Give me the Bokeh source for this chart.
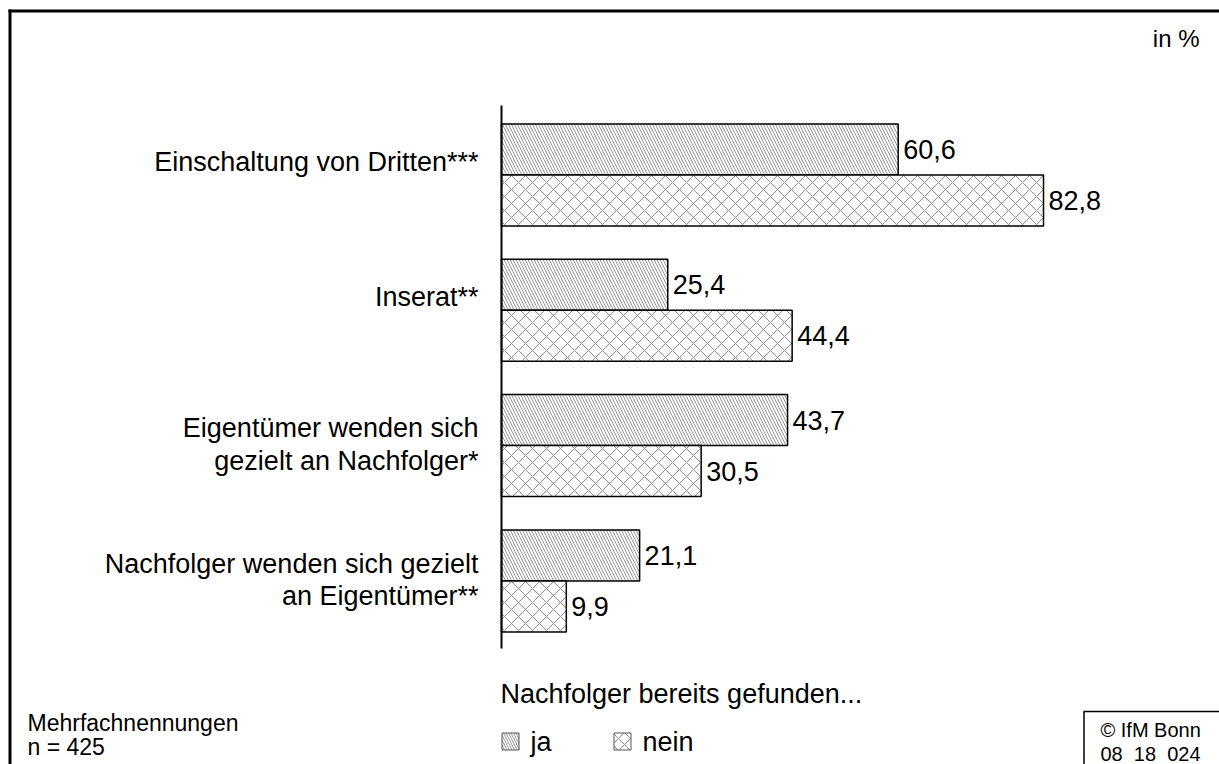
from bokeh.plotting import figure
from bokeh.models import Range1d, ColumnDataSource
from bokeh.core.properties import value
from bokeh.embed import file_html
from bokeh.resources import INLINE

# ---------------- data ----------------
categories = [
    "Einschaltung von Dritten***",
    "Inserat**",
    "Eigentümer wenden sich\ngezielt an Nachfolger*",
    "Nachfolger wenden sich gezielt\nan Eigentümer**",
]
ja = [60.6, 25.4, 43.7, 21.1]
nein = [82.8, 44.4, 30.5, 9.9]
series_names = ["ja", "nein"]
legend_title = "Nachfolger bereits gefunden..."
unit_note = "in %"
footnote_lines = ["Mehrfachnennungen", "n = 425"]
copyright_lines = ["© IfM Bonn", "08\u00a0 18\u00a0 024"]

# ---------------- layout ----------------
W, H = 1219, 764
OFF = 0              # page offset of the figure
ZERO_PX = 501.0      # figure px of value 0
PPU = 6.546          # px per percent
Y0 = 174.5           # figure px (from top) of first group centre
PPY = 135.3          # px per group
BAR_H = 51.0 / PPY
FONT = value("Liberation Sans")


def px_x(page_x):
    return (page_x - OFF - ZERO_PX) / PPU


def px_y(page_y):
    return (Y0 - (page_y - OFF)) / PPY


p = figure(width=W, height=H, output_backend="svg", toolbar_location=None,
           x_range=Range1d(-ZERO_PX / PPU, (W - ZERO_PX) / PPU),
           y_range=Range1d(-(H - Y0) / PPY, Y0 / PPY),
           min_border=0, min_border_left=0, min_border_right=0,
           min_border_top=0, min_border_bottom=0)
p.xaxis.visible = False
p.yaxis.visible = False
p.grid.visible = False
p.outline_line_color = None
p.background_fill_color = "white"
p.border_fill_color = "white"

n = len(categories)
idx = list(range(n))
y_ja = [-i + BAR_H / 2 for i in idx]
y_nein = [-i - BAR_H / 2 for i in idx]

src_ja = ColumnDataSource(dict(y=y_ja, v=ja, lab=[f"{v:.1f}".replace(".", ",") for v in ja]))
src_nein = ColumnDataSource(dict(y=y_nein, v=nein, lab=[f"{v:.1f}".replace(".", ",") for v in nein]))

HATCH_JA = dict(hatch_pattern="left_diagonal_line", hatch_scale=6, hatch_color="#969696", hatch_weight=1)
HATCH_NEIN = dict(hatch_pattern="diagonal_cross", hatch_scale=14, hatch_color="#8c8c8c", hatch_weight=1)

p.hbar(y="y", left=0, right="v", height=BAR_H, source=src_ja, fill_color="white",
       line_color="black", line_width=1.5, **HATCH_JA)
p.hbar(y="y", left=0, right="v", height=BAR_H, source=src_nein, fill_color="white",
       line_color="black", line_width=1.5, **HATCH_NEIN)

# value labels
for src in (src_ja, src_nein):
    p.text(x="v", y="y", text="lab", source=src, x_offset=5, text_align="left",
           text_baseline="middle", text_font=FONT, text_font_size="27px", text_color="black")

# category axis line
p.segment(x0=[0], x1=[0], y0=[px_y(105)], y1=[px_y(648)], line_color="black", line_width=2)

# category labels
lab_y = []
for i, c in enumerate(categories):
    shift = 13 if "\n" not in c else 1
    lab_y.append(-i + shift / PPY)
p.text(x=[0] * n, y=lab_y, text=categories, x_offset=-23, text_align="right",
       text_baseline="middle", text_font=FONT, text_font_size="27px",
       text_line_height=1.08, text_color="black")

# outer frame (left and top edges)
p.segment(x0=[px_x(9.5)], x1=[px_x(9.5)], y0=[px_y(9)], y1=[px_y(780)], line_color="black", line_width=3)
p.segment(x0=[px_x(8)], x1=[px_x(1240)], y0=[px_y(10.5)], y1=[px_y(10.5)], line_color="black", line_width=3)

# unit note
p.text(x=[px_x(1199)], y=[px_y(38)], text=[unit_note], text_align="right", text_baseline="middle",
       text_font=FONT, text_font_size="24px", text_color="black")

# legend
p.text(x=[px_x(500)], y=[px_y(693)], text=[legend_title], text_align="left", text_baseline="middle",
       text_font=FONT, text_font_size="27px", text_color="black")
leg_sq_x = [510, 622]
leg_txt_x = [530, 642]
for k, (name, hatch) in enumerate(zip(series_names, (HATCH_JA, HATCH_NEIN))):
    h = dict(hatch)
    h["hatch_scale"] = 5 if k == 0 else 12
    p.rect(x=[px_x(leg_sq_x[k])], y=[px_y(741)], width=17, height=17,
           width_units="screen", height_units="screen", fill_color="white",
           line_color="#555555", line_width=1, **h)
    p.text(x=[px_x(leg_txt_x[k])], y=[px_y(741)], text=[name], text_align="left",
           text_baseline="middle", text_font=FONT, text_font_size="27px", text_color="black")

# footnote
p.text(x=[px_x(27)] * 2, y=[px_y(722), px_y(746)], text=footnote_lines, text_align="left",
       text_baseline="middle", text_font=FONT, text_font_size="23px", text_color="black")

# copyright box
p.segment(x0=[px_x(1083.5), px_x(1083)], x1=[px_x(1083.5), px_x(1240)],
          y0=[px_y(711), px_y(711)], y1=[px_y(780), px_y(711)], line_color="black", line_width=1.5)
p.text(x=[px_x(1100)] * 2, y=[px_y(729), px_y(753)], text=copyright_lines, text_align="left",
       text_baseline="middle", text_font=FONT, text_font_size="20px", text_color="black")

open("out.html", "w").write(file_html(p, INLINE))
